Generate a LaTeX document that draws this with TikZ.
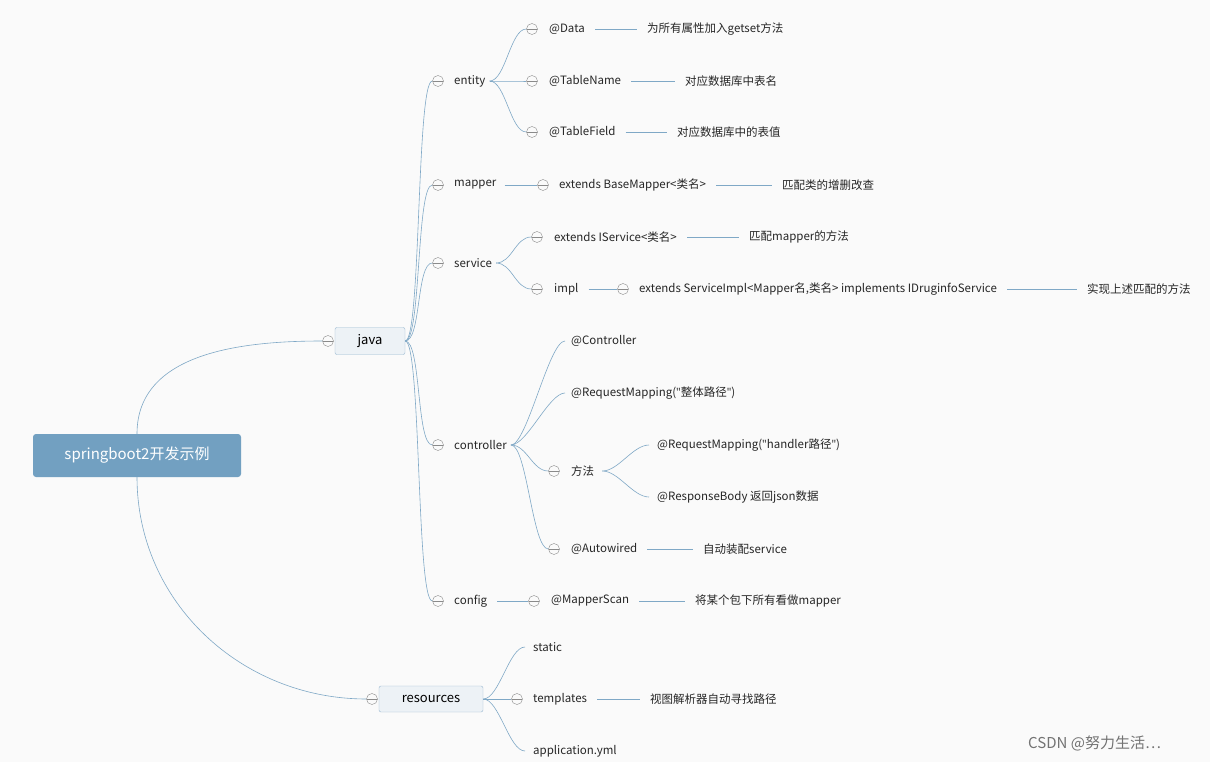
\documentclass[tikz,border=0pt]{standalone}
\usepackage{fontspec}
\setmainfont{Noto Sans CJK SC}
\newfontfamily\latinf{Open Sans}
\newcommand{\qq}{{\latinf"}}
\definecolor{bg}{HTML}{FAFAFA}
\definecolor{ln}{HTML}{7FA8C6}
\definecolor{rootc}{HTML}{72A0C1}
\definecolor{boxc}{HTML}{EDF2F6}
\definecolor{cg}{HTML}{8A8A8A}
\begin{document}
\begin{tikzpicture}[x=1pt,y=-1pt,
 t/.style={anchor=west,inner sep=0pt,font=\fontsize{11.5}{13}\selectfont,text=black!85},
 cc/.style={circle,draw=cg,minimum size=11pt,inner sep=0pt,fill=bg,path picture={\draw[cg] (path picture bounding box.west) -- (path picture bounding box.east);}},
 br/.style={draw=ln,line width=0.6pt},
 cv/.style={out=0,in=180,max distance=16pt},
 ]
\fill[bg] (0,0) rectangle (1210,762);
\useasboundingbox (0,0) rectangle (1210,762);
% root
\node[fill=rootc,rounded corners=3pt,minimum width=208pt,minimum height=43pt,text=white,font=\fontsize{15}{17}\selectfont] (root) at (137,455.5) {springboot2开发示例};
\node[fill=boxc,draw=ln!80,rounded corners=2pt,minimum width=70pt,minimum height=27pt,font=\fontsize{13}{15}\selectfont] (java) at (370,341) {java};
\node[fill=boxc,draw=ln!80,rounded corners=2pt,minimum width=104pt,minimum height=26pt,font=\fontsize{13}{15}\selectfont] (res) at (431,699) {resources};
\node[cc] (cjava) at (328,341) {};
\node[cc] (cres) at (372,699) {};
\draw[br] (root.north) to[out=90,in=180] (cjava.west);
\draw[br] (root.south) to[out=-90,in=180] (cres.west);
% java children
\foreach \n/\y/\s in {entity/81/entity,mapper/185/mapper,service/263/service,controller/445/controller,config/601/config}{
 \node[cc] (c\n) at (438,\y) {};
 \node[t] (\n) at (454,\y) {\s};
 \draw[br] (java.east) to[cv] (c\n.west);
}
% entity
\foreach \n/\y/\s in {data/29/@Data,tname/81/@TableName,tfield/132/@TableField}{
 \node[cc] (c\n) at (532,\y) {};
 \node[t] (\n) at (549,\y) {\s};
 \draw[br] ([xshift=4pt]entity.east) to[cv] (c\n.west);
}
\node[t] (ddata) at (647,29) {为所有属性加入getset方法};
\node[t] (dtname) at (685,81) {对应数据库中表名};
\node[t] (dtfield) at (677,132) {对应数据库中的表值};
\foreach \a in {data,tname,tfield}{\draw[br] ([xshift=10pt]\a.east) -- ([xshift=-10pt]d\a.west);}
% mapper
\node[cc] (cbm) at (543,185) {};
\node[t] (bm) at (559,185) {extends BaseMapper<类名>};
\node[t] (dbm) at (782,185) {匹配类的增删改查};
\draw[br] ([xshift=8pt]mapper.east) -- (cbm.west);
\draw[br] ([xshift=10pt]bm.east) -- ([xshift=-10pt]dbm.west);
% service
\node[cc] (cis) at (537,237) {};
\node[t] (is) at (554,237) {extends IService<类名>};
\node[cc] (cimpl) at (537,289) {};
\node[t] (impl) at (554,289) {impl};
\draw[br] ([xshift=4pt]service.east) to[cv] (cis.west);
\draw[br] ([xshift=4pt]service.east) to[cv] (cimpl.west);
\node[t] (dis) at (749,237) {匹配mapper的方法};
\draw[br] ([xshift=10pt]is.east) -- ([xshift=-10pt]dis.west);
\node[cc] (csi) at (623,289) {};
\node[t] (si) at (639,289) {extends ServiceImpl<Mapper名,类名> implements IDruginfoService};
\node[t] (dsi) at (1087,289) {实现上述匹配的方法};
\draw[br] ([xshift=10pt]impl.east) -- (csi.west);
\draw[br] ([xshift=10pt]si.east) -- ([xshift=-10pt]dsi.west);
% controller
\node[t] (ctl) at (571,341) {@Controller};
\node[t] (rm) at (571,393) {@RequestMapping(\qq 整体路径\qq)};
\node[cc] (cff) at (554,471) {};
\node[t] (ff) at (571,471) {方法};
\node[cc] (caw) at (554,549) {};
\node[t] (aw) at (571,549) {@Autowired};
\coordinate (cs) at ([xshift=4pt]controller.east);
\draw[br] (cs) to[cv] ([xshift=-6pt]ctl.west);
\draw[br] (cs) to[cv] ([xshift=-6pt]rm.west);
\draw[br] (cs) to[cv] (cff.west);
\draw[br] (cs) to[cv] (caw.west);
\node[t] (daw) at (703,549) {自动装配service};
\draw[br] ([xshift=10pt]aw.east) -- ([xshift=-10pt]daw.west);
\node[t] (hrm) at (657,445) {@RequestMapping(\qq handler路径\qq)};
\node[t] (rb) at (657,497) {@ResponseBody 返回json数据};
\draw[br] ([xshift=8pt]ff.east) to[cv] ([xshift=-8pt]hrm.west);
\draw[br] ([xshift=8pt]ff.east) to[cv] ([xshift=-8pt]rb.west);
% config
\node[cc] (cms) at (534,601) {};
\node[t] (ms) at (551,601) {@MapperScan};
\node[t] (dms) at (695,601) {将某个包下所有看做mapper};
\draw[br] ([xshift=10pt]config.east) -- (cms.west);
\draw[br] ([xshift=10pt]ms.east) -- ([xshift=-10pt]dms.west);
% resources
\node[t] (st) at (533,647) {static};
\node[cc] (ctp) at (517,699) {};
\node[t] (tp) at (533,699) {templates};
\node[t] (ay) at (533,751) {application.yml};
\draw[br] (res.east) to[cv] ([xshift=-8pt]st.west);
\draw[br] (res.east) -- (ctp.west);
\draw[br] (res.east) to[cv] ([xshift=-8pt]ay.west);
\node[t] (dtp) at (650,699) {视图解析器自动寻找路径};
\draw[br] ([xshift=10pt]tp.east) -- ([xshift=-10pt]dtp.west);
% watermark
\node[anchor=west,inner sep=0pt,text=black!55,font=\fontsize{15}{17}\selectfont] (wm) at (1028,743) {CSDN @努力生活…};
\end{tikzpicture}
\end{document}
